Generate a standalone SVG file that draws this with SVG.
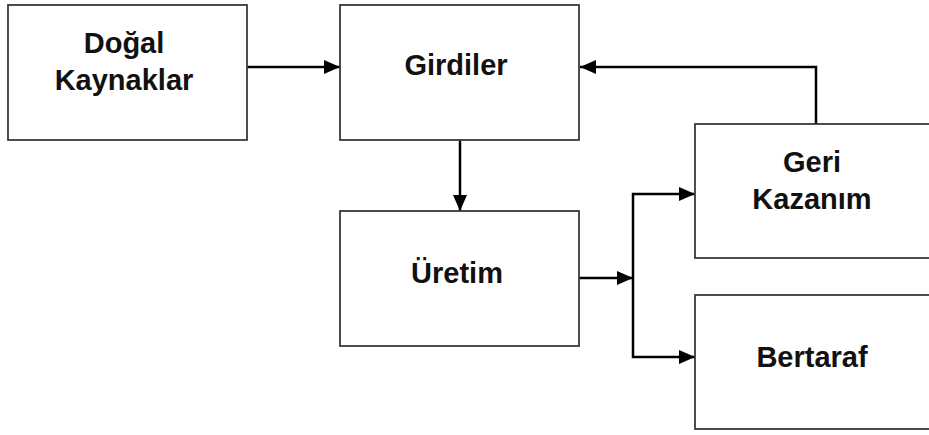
<svg xmlns="http://www.w3.org/2000/svg" width="929" height="435" viewBox="0 0 929 435">
  <defs>
    <marker id="arr" markerWidth="16" markerHeight="14" refX="16" refY="7" orient="auto" markerUnits="userSpaceOnUse">
      <path d="M0,0 L16,7 L0,14 Z" fill="#000"/>
    </marker>
    <style>
      .box { fill: #fff; stroke: #3a3a3a; stroke-width: 1.8; }
      .lbl { font-family: "Liberation Sans", Arial, sans-serif; font-weight: bold; font-size: 29px; fill: #111; text-anchor: middle; }
      .conn { fill: none; stroke: #000; stroke-width: 2.5; }
    </style>
  </defs>
  <rect width="929" height="435" fill="#fff"/>
  <g id="connectors">
    <path class="conn" d="M247,67 H340" marker-end="url(#arr)"/>
    <path class="conn" d="M816,124 V67 H580" marker-end="url(#arr)"/>
    <path class="conn" d="M460,140 V211" marker-end="url(#arr)"/>
    <path class="conn" d="M579,278 H633" marker-end="url(#arr)"/>
    <path class="conn" d="M660,194 H633 V357 H660" />
    <path class="conn" d="M660,194 H695" marker-end="url(#arr)"/>
    <path class="conn" d="M660,357 H695" marker-end="url(#arr)"/>
  </g>
  <g id="dogal-kaynaklar">
    <rect class="box" x="8" y="5" width="239" height="135"/>
    <text class="lbl" x="124" y="53">Doğal</text>
    <text class="lbl" x="124" y="90">Kaynaklar</text>
  </g>
  <g id="girdiler">
    <rect class="box" x="340" y="5" width="239" height="135"/>
    <text class="lbl" x="456" y="75">Girdiler</text>
  </g>
  <g id="uretim">
    <rect class="box" x="340" y="211" width="239" height="135"/>
    <text class="lbl" x="457" y="283">Üretim</text>
  </g>
  <g id="geri-kazanim">
    <rect class="box" x="695" y="124" width="250" height="134"/>
    <text class="lbl" x="812" y="172">Geri</text>
    <text class="lbl" x="812" y="209">Kazanım</text>
  </g>
  <g id="bertaraf">
    <rect class="box" x="695" y="295" width="250" height="134"/>
    <text class="lbl" x="812" y="367">Bertaraf</text>
  </g>
</svg>
